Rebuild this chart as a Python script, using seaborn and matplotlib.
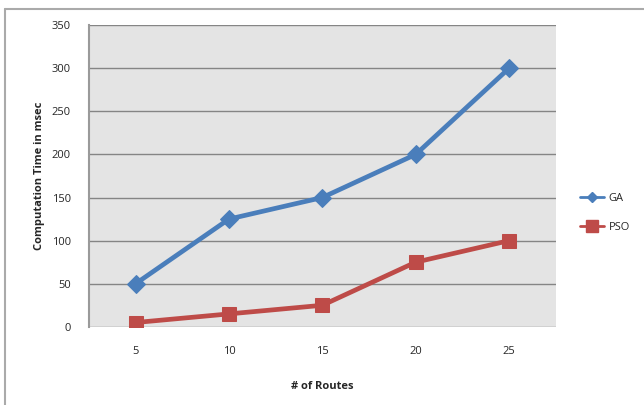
import matplotlib
matplotlib.use("Agg")
import matplotlib.pyplot as plt
import seaborn as sns
import pandas as pd
from matplotlib.lines import Line2D

routes = ["5", "10", "15", "20", "25"]
ga_ms = [50, 125, 150, 200, 300]
pso_ms = [5, 15, 25, 75, 100]
y_ticks = [0, 50, 100, 150, 200, 250, 300, 350]

df = pd.DataFrame({
    "routes": routes * 2,
    "time": ga_ms + pso_ms,
    "method": ["GA"] * len(routes) + ["PSO"] * len(routes),
})

sns.set_style("white")
plt.rcParams["font.family"] = ["Open Sans", "DejaVu Sans"]

ga_color = "#4a7ebb"
pso_color = "#be4b48"

fig = plt.figure(figsize=(6.44, 4.05), dpi=100)
ax = fig.add_axes([0.138, 0.193, 0.725, 0.745])
ax.set_facecolor("#e4e4e4")

sns.lineplot(data=df[df.method == "GA"], x="routes", y="time", ax=ax,
             color=ga_color, linewidth=3.4, marker="D", markersize=9,
             markeredgecolor=ga_color, sort=False, legend=False)
sns.lineplot(data=df[df.method == "PSO"], x="routes", y="time", ax=ax,
             color=pso_color, linewidth=3.4, marker="s", markersize=10.5,
             markeredgecolor=pso_color, sort=False, legend=False)

ax.set_xlim(-0.5, len(routes) - 0.5)
ax.set_ylim(0, 350)
ax.set_yticks(y_ticks)
ax.yaxis.grid(True, color="#858585", linewidth=1.0)
ax.set_axisbelow(True)
ax.tick_params(axis="y", length=5, width=1, color="#8a8a8a", labelsize=8, pad=8)
ax.tick_params(axis="x", length=0, labelsize=8, pad=14)
for s in ["top", "right", "bottom"]:
    ax.spines[s].set_visible(False)
ax.spines["left"].set_color("#9a9a9a")
ax.spines["left"].set_linewidth(1.5)

ax.set_xlabel("# of Routes", fontsize=8, fontweight="bold", labelpad=17)
ax.set_ylabel("Computation Time in msec", fontsize=8, fontweight="bold", labelpad=5)

handles = [
    Line2D([], [], color=ga_color, linewidth=2, marker="D", markersize=5),
    Line2D([], [], color=pso_color, linewidth=2, marker="s", markersize=8),
]
fig.legend(handles, ["GA", "PSO"], loc="center left", bbox_to_anchor=(0.885, 0.475),
           frameon=False, fontsize=8, handlelength=2.2, labelspacing=1.6,
           handletextpad=0.4)

# chart frame
fig.add_artist(Line2D([5 / 644, 1.0], [1 - 9 / 405, 1 - 9 / 405],
                      transform=fig.transFigure, color="#aaaaaa", linewidth=1.5))
fig.add_artist(Line2D([5 / 644, 5 / 644], [0.0, 1 - 9 / 405],
                      transform=fig.transFigure, color="#aaaaaa", linewidth=1.5))

fig.savefig("out.png", dpi=100)
